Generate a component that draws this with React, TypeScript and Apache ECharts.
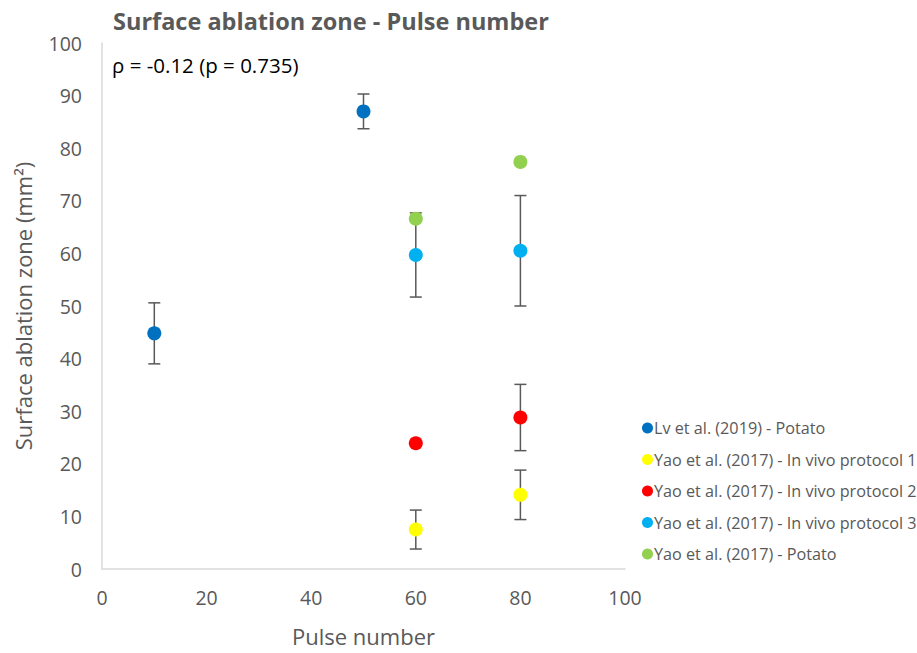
import React, { useEffect, useRef } from "react";
import * as echarts from "echarts";

const seriesNames = [
  "Lv et al. (2019) - Potato",
  "Yao et al. (2017) - In vivo protocol 1",
  "Yao et al. (2017) - In vivo protocol 2",
  "Yao et al. (2017) - In vivo protocol 3",
  "Yao et al. (2017) - Potato",
];
const seriesColors = ["#0070C0", "#FFFF00", "#FF0000", "#00B0F0", "#92D050"];

// [pulse number, mean, error (null = none)]
const lvPotato: [number, number, number | null][] = [
  [10, 44.8, 5.8],
  [50, 87.0, 3.3],
];
const yaoProtocol1: [number, number, number | null][] = [
  [60, 7.5, 3.7],
  [80, 14.1, 4.7],
];
const yaoProtocol2: [number, number, number | null][] = [
  [60, 23.9, null],
  [80, 28.8, 6.3],
];
const yaoProtocol3: [number, number, number | null][] = [
  [60, 59.7, 8.0],
  [80, 60.5, 10.5],
];
const yaoPotato: [number, number, number | null][] = [
  [60, 66.6, null],
  [80, 77.4, null],
];
const allSeries = [lvPotato, yaoProtocol1, yaoProtocol2, yaoProtocol3, yaoPotato];

const xTicks = { min: 0, max: 100, interval: 20 };
const yTicks = { min: 0, max: 100, interval: 10 };

const titleText = "Surface ablation zone - Pulse number";
const annotationText = "ρ = -0.12 (p = 0.735)";
const xAxisName = "Pulse number";
const yAxisName = "Surface ablation zone (mm²)";

export default function App() {
  const ref = useRef<HTMLDivElement>(null);
  useEffect(() => {
    if (!ref.current) return;
    const chart = echarts.init(ref.current, null, { renderer: "svg" });
    const font = "'Open Sans', 'Liberation Sans', sans-serif";
    const gray = "#595959";

    const errData: number[][] = [];
    allSeries.forEach((s) =>
      s.forEach(([x, y, e]) => {
        if (e != null) errData.push([x, y, y - e, y + e]);
      })
    );

    const series: any[] = [
      {
        type: "custom",
        name: "err",
        data: errData,
        z: 1,
        silent: true,
        renderItem: (params: any, api: any) => {
          const x = api.value(0);
          const lo = api.coord([x, api.value(2)]);
          const hi = api.coord([x, api.value(3)]);
          const cap = 6;
          const style = { stroke: "#595959", lineWidth: 1.5 };
          return {
            type: "group",
            children: [
              { type: "line", shape: { x1: lo[0], y1: lo[1], x2: hi[0], y2: hi[1] }, style },
              { type: "line", shape: { x1: lo[0] - cap, y1: lo[1], x2: lo[0] + cap, y2: lo[1] }, style },
              { type: "line", shape: { x1: hi[0] - cap, y1: hi[1], x2: hi[0] + cap, y2: hi[1] }, style },
            ],
          };
        },
        encode: { x: 0, y: 1 },
      },
    ];
    allSeries.forEach((s, i) => {
      series.push({
        type: "scatter",
        name: seriesNames[i],
        data: s.map(([x, y]) => [x, y]),
        symbol: "circle",
        symbolSize: 14,
        itemStyle: { color: seriesColors[i], opacity: 1 },
        z: 3,
      });
    });

    chart.setOption({
      animation: false,
      backgroundColor: "#ffffff",
      title: {
        text: titleText,
        left: 108,
        top: 4,
        textStyle: { fontFamily: font, fontSize: 23.5, fontWeight: "bold", color: gray },
      },
      graphic: [
        {
          type: "text",
          left: 112,
          top: 54,
          style: { text: annotationText, fontFamily: font, fontSize: 20.5, fill: "#000000" },
        },
      ],
      legend: {
        data: seriesNames,
        orient: "vertical",
        left: 637,
        top: 415,
        itemGap: 15.5,
        itemWidth: 11,
        itemHeight: 11,
        icon: "circle",
        textStyle: { fontFamily: font, fontSize: 16.2, color: gray, padding: [0, 0, 0, -4] },
      },
      grid: { left: 102, right: 292, top: 43, bottom: 84 },
      xAxis: {
        type: "value",
        ...xTicks,
        name: xAxisName,
        nameLocation: "middle",
        nameGap: 56,
        nameTextStyle: { fontFamily: font, fontSize: 22, color: gray },
        axisLine: { show: true, lineStyle: { color: "#D9D9D9", width: 1.5 } },
        axisTick: { show: false },
        splitLine: { show: false },
        axisLabel: { fontFamily: font, fontSize: 19.5, color: gray, margin: 18 },
      },
      yAxis: {
        type: "value",
        ...yTicks,
        name: yAxisName,
        nameLocation: "middle",
        nameGap: 68,
        nameTextStyle: { fontFamily: font, fontSize: 22, color: gray },
        axisLine: { show: true, lineStyle: { color: "#D9D9D9", width: 1.5 } },
        axisTick: { show: false },
        splitLine: { show: false },
        axisLabel: { fontFamily: font, fontSize: 19.5, color: gray, margin: 20 },
      },
      series,
    });
    return () => chart.dispose();
  }, []);
  return <div ref={ref} style={{ width: 917, height: 653, position: "absolute", left: 0, top: 0 }} />;
}
